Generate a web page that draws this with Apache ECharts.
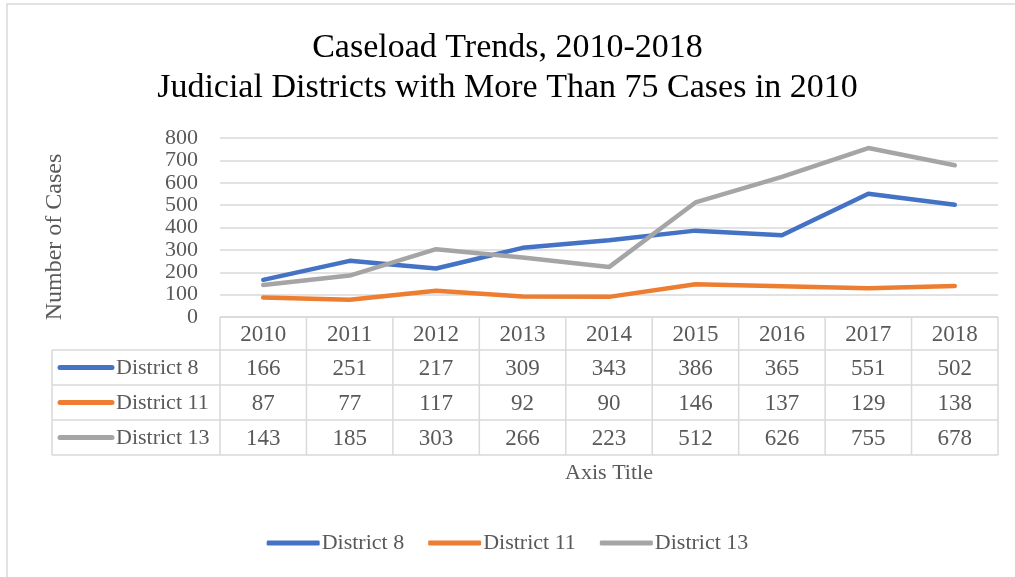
<!DOCTYPE html>
<html>
<head>
<meta charset="utf-8">
<script src="https://cdn.jsdelivr.net/npm/echarts@6/dist/echarts.min.js"></script>
<style>
  html, body { margin: 0; padding: 0; background: #fff; }
  #chart { width: 1015px; height: 577px; }
</style>
</head>
<body>
<div id="chart"></div>
<script>
// ---- data ----
const years = ['2010', '2011', '2012', '2013', '2014', '2015', '2016', '2017', '2018'];
const seriesNames = ['District 8', 'District 11', 'District 13'];
const district8 = [166, 251, 217, 309, 343, 386, 365, 551, 502];
const district11 = [87, 77, 117, 92, 90, 146, 137, 129, 138];
const district13 = [143, 185, 303, 266, 223, 512, 626, 755, 678];
const yTicks = [0, 100, 200, 300, 400, 500, 600, 700, 800];
const titleLines = ['Caseload Trends, 2010-2018', 'Judicial Districts with More Than 75 Cases in 2010'];
const yAxisTitle = 'Number of Cases';
const xAxisTitle = 'Axis Title';

const seriesValues = [district8, district11, district13];
const colors = ['#4472C4', '#ED7D31', '#A5A5A5'];
const FONT = '"Liberation Serif", "Times New Roman", serif';
const TXT = '#595959';
const LINE = '#d9d9d9';

const chart = echarts.init(document.getElementById('chart'));

const option = {
  animation: false,
  backgroundColor: '#fff',
  title: {
    text: titleLines.join('\n'),
    left: 'center',
    top: 23,
    textStyle: { fontFamily: FONT, fontSize: 34, fontWeight: 'normal', color: '#000', lineHeight: 40 }
  },
  grid: { left: 220, right: 17, top: 138, bottom: 260, containLabel: false },
  legend: {
    bottom: 18,
    left: 'center',
    icon: 'roundRect',
    itemWidth: 53,
    itemHeight: 5,
    itemGap: 24,
    textStyle: { fontFamily: FONT, fontSize: 22, color: TXT, padding: [0, 0, 0, -3] },
    data: seriesNames
  },
  xAxis: {
    type: 'category',
    data: years,
    boundaryGap: true,
    axisLine: { show: false },
    axisTick: { show: false },
    axisLabel: { show: false }
  },
  yAxis: {
    type: 'value',
    min: yTicks[0],
    max: yTicks[yTicks.length - 1],
    interval: 100,
    axisLine: { show: false },
    axisTick: { show: false },
    axisLabel: {
      fontFamily: FONT, fontSize: 22, lineHeight: 16, color: TXT, margin: 22,
      showMinLabel: true, showMaxLabel: true, hideOverlap: false
    },
    splitLine: { lineStyle: { color: LINE, width: 1.5 } }
  },
  series: seriesNames.map((n, i) => ({
    name: n,
    type: 'line',
    data: seriesValues[i],
    symbol: 'none',
    color: colors[i],
    lineStyle: { width: 4.5, color: colors[i], cap: 'round', join: 'round' }
  }))
};
chart.setOption(option);

// ---- data table drawn below the plot, aligned to category axis ----
function buildTable() {
  const g = [];
  const n = years.length;
  const c0 = chart.convertToPixel({ xAxisIndex: 0 }, 0);
  const c1 = chart.convertToPixel({ xAxisIndex: 0 }, 1);
  const band = c1 - c0;
  const xLeft = c0 - band / 2;
  const xRight = xLeft + band * n;
  const legendLeft = 52;
  const y0 = chart.convertToPixel({ yAxisIndex: 0 }, 0);
  const rowTops = [y0, y0 + 33, y0 + 68, y0 + 103, y0 + 138];
  const lw = 1.5;
  const line = (x1, y1, x2, y2) => g.push({
    type: 'line', silent: true,
    shape: { x1, y1, x2, y2 },
    style: { stroke: LINE, lineWidth: lw }
  });
  line(xLeft, rowTops[0], xRight, rowTops[0]);
  for (let r = 1; r < rowTops.length; r++) line(legendLeft, rowTops[r], xRight, rowTops[r]);
  line(legendLeft, rowTops[1], legendLeft, rowTops[4]);
  for (let i = 0; i <= n; i++) {
    const x = xLeft + band * i;
    line(x, rowTops[0], x, rowTops[4]);
  }
  years.forEach((yr, i) => {
    g.push({
      type: 'text', silent: true,
      style: {
        text: yr, x: chart.convertToPixel({ xAxisIndex: 0 }, i), y: (rowTops[0] + rowTops[1]) / 2 + 1,
        align: 'center', verticalAlign: 'middle',
        font: '23px ' + FONT, fill: TXT
      }
    });
  });
  seriesNames.forEach((name, r) => {
    const cy = (rowTops[r + 1] + rowTops[r + 2]) / 2;
    g.push({
      type: 'line', silent: true,
      shape: { x1: 60, y1: cy, x2: 112, y2: cy },
      style: { stroke: colors[r], lineWidth: 5, lineCap: 'round' }
    });
    g.push({
      type: 'text', silent: true,
      style: { text: name, x: 116, y: cy + 1, align: 'left', verticalAlign: 'middle', font: '22px ' + FONT, fill: TXT }
    });
    seriesValues[r].forEach((v, i) => {
      g.push({
        type: 'text', silent: true,
        style: {
          text: String(v), x: chart.convertToPixel({ xAxisIndex: 0 }, i), y: cy + 1,
          align: 'center', verticalAlign: 'middle', font: '23px ' + FONT, fill: TXT
        }
      });
    });
  });
  g.push({
    type: 'text', silent: true,
    style: { text: xAxisTitle, x: (xLeft + xRight) / 2, y: 473, align: 'center', verticalAlign: 'middle', font: '22px ' + FONT, fill: TXT }
  });
  g.push({
    type: 'text', silent: true, x: 55, y: 237, rotation: Math.PI / 2,
    style: { text: yAxisTitle, x: 0, y: 0, align: 'center', verticalAlign: 'middle', font: '24px ' + FONT, fill: TXT }
  });
  g.push({
    type: 'rect', silent: true, z: -1,
    shape: { x: 7, y: 4, width: 1020, height: 590 },
    style: { fill: 'none', stroke: LINE, lineWidth: 1.5 }
  });
  chart.setOption({ graphic: g });
}
buildTable();
</script>
</body>
</html>
